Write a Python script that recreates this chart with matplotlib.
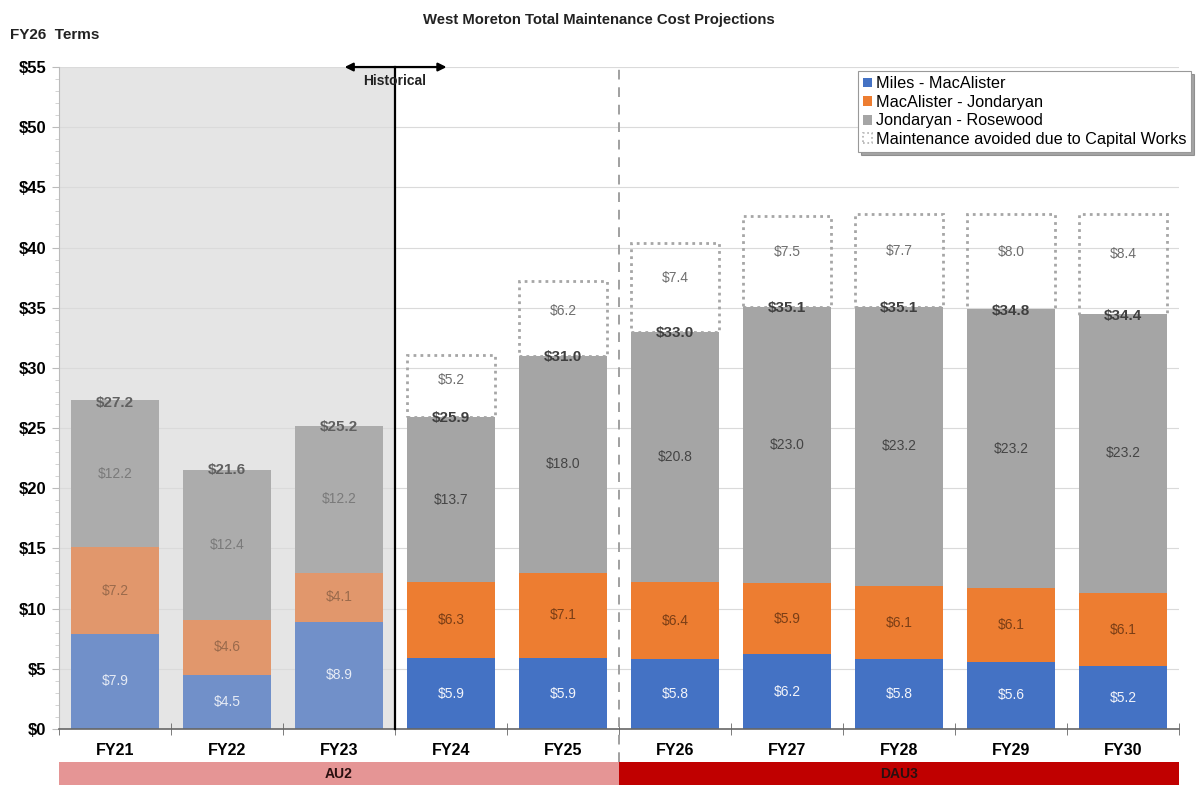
import matplotlib
matplotlib.use("Agg")
import matplotlib.pyplot as plt
from matplotlib.patches import Rectangle, Patch

plt.rcParams['font.family'] = ['Liberation Sans', 'DejaVu Sans']

years = ["FY21", "FY22", "FY23", "FY24", "FY25", "FY26", "FY27", "FY28", "FY29", "FY30"]
miles_macalister = [7.9, 4.5, 8.9, 5.9, 5.9, 5.8, 6.2, 5.8, 5.6, 5.2]
macalister_jondaryan = [7.2, 4.6, 4.1, 6.3, 7.1, 6.4, 5.9, 6.1, 6.1, 6.1]
jondaryan_rosewood = [12.2, 12.4, 12.2, 13.7, 18.0, 20.8, 23.0, 23.2, 23.2, 23.2]
totals = [27.2, 21.6, 25.2, 25.9, 31.0, 33.0, 35.1, 35.1, 34.8, 34.4]
avoided = [None, None, None, 5.2, 6.2, 7.4, 7.5, 7.7, 8.0, 8.4]
n_historical = 3
periods = [("AU2", 0, 4), ("DAU3", 5, 9)]

series_names = ["Miles - MacAlister", "MacAlister - Jondaryan", "Jondaryan - Rosewood"]
colors_now = ["#4472C4", "#ED7D31", "#A5A5A5"]
colors_hist = ["#7190C9", "#E1976C", "#ACACAC"]
text_now = ["#F2F4FA", "#7A3E16", "#454545"]
text_hist = ["#E6EBF5", "#9A6A4C", "#7A7A7A"]

fig = plt.figure(figsize=(11.97, 7.85), dpi=100)
ax = fig.add_axes([0.0493, 0.0713, 0.9357, 0.8433])
x = list(range(len(years)))
w = 0.79

ax.set_xlim(-0.5, len(years) - 0.5)
ax.set_ylim(0, 55)

# shaded historical period
ax.axvspan(-0.5, n_historical - 0.5, color="#E5E5E5", zorder=0, lw=0)
ax.set_yticks(range(0, 56, 5))
ax.set_yticks(range(0, 56, 1), minor=True)
ax.yaxis.grid(True, color="#DADADA", lw=0.8, zorder=0.5)
ax.set_axisbelow(True)
ax.set_yticklabels([f"${v}" for v in range(0, 56, 5)], fontweight="bold", fontsize=12)
ax.tick_params(axis="y", which="major", length=5, color="#BBBBBB", pad=4)
ax.tick_params(axis="y", which="minor", length=3, color="#CCCCCC")

ax.set_xticks(x)
ax.set_xticklabels(years, fontweight="bold", fontsize=11.5)
ax.set_xticks([i - 0.5 for i in range(len(years) + 1)], minor=True)
ax.tick_params(axis="x", which="major", length=0, pad=10)
ax.tick_params(axis="x", which="minor", length=8, color="#666666", direction="inout")

for s in ["top", "right"]:
    ax.spines[s].set_visible(False)
ax.spines["left"].set_color("#BBBBBB")
ax.spines["bottom"].set_color("#666666")
ax.spines["bottom"].set_linewidth(1.2)

series = [miles_macalister, macalister_jondaryan, jondaryan_rosewood]
for i in x:
    hist = i < n_historical
    cols = colors_hist if hist else colors_now
    tcols = text_hist if hist else text_now
    bottom = 0
    for k, vals in enumerate(series):
        v = vals[i]
        ax.bar(i, v, width=w, bottom=bottom, color=cols[k], zorder=2, lw=0)
        ax.text(i, bottom + v / 2, f"${v:.1f}", ha="center", va="center",
                fontsize=10, color=tcols[k], zorder=5)
        bottom += v
    ax.text(i, totals[i] - 0.1, f"${totals[i]:.1f}", ha="center", va="center",
            fontsize=11, fontweight="bold",
            color="#606060" if hist else "#3F3F3F", zorder=6)
    if avoided[i] is not None:
        ax.add_patch(Rectangle((i - w / 2, totals[i]), w, avoided[i],
                               facecolor="none", edgecolor="#A6A6A6",
                               linestyle=(0, (1, 1.5)), lw=2, zorder=3))
        ax.text(i, totals[i] + avoided[i] * 0.6, f"${avoided[i]:.1f}",
                ha="center", va="center", fontsize=10, color="#6E6E6E", zorder=5)

# historical marker
ax.plot([n_historical - 0.5] * 2, [0, 55], color="black", lw=1.6, zorder=7, clip_on=False)
ax.annotate("", xy=(n_historical - 0.95, 55), xytext=(n_historical - 0.04, 55),
            arrowprops=dict(arrowstyle="<|-|>", color="black", lw=1.6,
                            mutation_scale=12, shrinkA=0, shrinkB=0),
            annotation_clip=False, zorder=8)
ax.text(n_historical - 0.5, 53.8, "Historical", ha="center", va="center",
        fontsize=10, fontweight="bold", color="#222222", zorder=8)

# regulatory period divider
ax.plot([4.5, 4.5], [-2.7, 55], color="#A0A0A0", lw=1.4, ls=(0, (5, 4)),
        zorder=1, clip_on=False)

# regulatory period bands
band = fig.add_axes([0.0493, 0.0, 0.9357, 0.029])
band.set_xlim(-0.5, len(years) - 0.5)
band.set_ylim(0, 1)
band.axis("off")
band_colors = {"AU2": "#E59595", "DAU3": "#C00000"}
for name, a, b in periods:
    band.axvspan(a - 0.5, b + 0.5, color=band_colors[name], lw=0)
    band.text((a + b) / 2, 0.5, name, ha="center", va="center",
              fontsize=10, fontweight="bold", color="#2A1010")

handles = [Patch(facecolor=c, edgecolor="none") for c in colors_now]
handles.append(Patch(facecolor="white", edgecolor="#B0B0B0", linestyle=":", lw=1.2))
leg = fig.legend(handles, series_names + ["Maintenance avoided due to Capital Works"],
                 loc="upper right", bbox_to_anchor=(0.995, 0.909),
                 fontsize=11.7, handlelength=0.55, handleheight=0.55,
                 handletextpad=0.25, labelspacing=0.22, borderpad=0.3,
                 borderaxespad=0, fancybox=False, shadow=True, framealpha=1,
                 edgecolor="#999999")
leg.get_frame().set_linewidth(0.8)

fig.text(0.5, 0.975, "West Moreton Total Maintenance Cost Projections",
         ha="center", va="center", fontsize=10.7, fontweight="bold", color="#222222")
fig.text(0.008, 0.955, "FY26  Terms", ha="left", va="center",
         fontsize=11, fontweight="bold", color="#222222")

fig.savefig("out.png", dpi=100)
